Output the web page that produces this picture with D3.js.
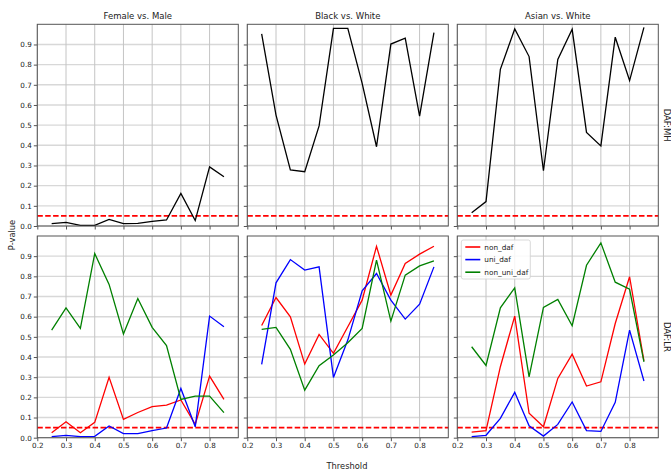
<!DOCTYPE html>
<html>
<head>
<meta charset="utf-8">
<script src="https://cdn.jsdelivr.net/npm/d3@7"></script>
<style>
  body { margin: 0; background: white; }
  text { font-family: "DejaVu Sans", sans-serif; fill: #222; }
</style>
</head>
<body>
<div id="chart"></div>
<script>
// thresholds on the x axis
var thresholds = [0.25, 0.30, 0.35, 0.40, 0.45, 0.50, 0.55, 0.60, 0.65, 0.70, 0.75, 0.80, 0.85];
var xTicks = [0.2, 0.3, 0.4, 0.5, 0.6, 0.7, 0.8];
var yTicks = [0.0, 0.1, 0.2, 0.3, 0.4, 0.5, 0.6, 0.7, 0.8, 0.9];
var groups = ["Female vs. Male", "Black vs. White", "Asian vs. White"];
var methods = ["DAF:MH", "DAF:LR"];
var seriesNames = ["non_daf", "uni_daf", "non_uni_daf"];
var seriesColors = ["#ff0000", "#0000ff", "#008000"];
var alpha = 0.05;

// DAF:MH p-values
var mhFemaleMale = [0.012, 0.018, 0.003, 0.003, 0.033, 0.012, 0.013, 0.023, 0.030, 0.162, 0.027, 0.293, 0.244];
var mhBlackWhite = [0.952, 0.550, 0.278, 0.269, 0.496, 0.980, 0.980, 0.707, 0.393, 0.902, 0.931, 0.545, 0.959];
var mhAsianWhite = [0.066, 0.121, 0.777, 0.977, 0.840, 0.274, 0.826, 0.975, 0.464, 0.397, 0.936, 0.721, 0.985];

// DAF:LR p-values
var lrFemaleMaleNon = [0.025, 0.079, 0.025, 0.076, 0.299, 0.091, 0.125, 0.154, 0.162, 0.187, 0.066, 0.305, 0.190];
var lrFemaleMaleUni = [0.005, 0.012, 0.005, 0.007, 0.058, 0.020, 0.020, 0.035, 0.048, 0.244, 0.054, 0.603, 0.550];
var lrFemaleMaleNonUni = [0.533, 0.644, 0.542, 0.913, 0.760, 0.514, 0.690, 0.547, 0.457, 0.190, 0.206, 0.206, 0.124];

var lrBlackWhiteNon = [0.556, 0.695, 0.599, 0.365, 0.512, 0.418, 0.550, 0.682, 0.949, 0.707, 0.864, 0.910, 0.949];
var lrBlackWhiteUni = [0.363, 0.768, 0.883, 0.831, 0.847, 0.299, 0.484, 0.728, 0.814, 0.682, 0.588, 0.662, 0.847];
var lrBlackWhiteNonUni = [0.537, 0.547, 0.438, 0.236, 0.357, 0.410, 0.471, 0.542, 0.880, 0.578, 0.806, 0.852, 0.877];

var lrAsianWhiteNon = [0.028, 0.035, 0.352, 0.603, 0.121, 0.054, 0.294, 0.414, 0.256, 0.277, 0.566, 0.798, 0.381];
var lrAsianWhiteUni = [0.005, 0.012, 0.096, 0.225, 0.059, 0.008, 0.066, 0.177, 0.035, 0.031, 0.175, 0.533, 0.281];
var lrAsianWhiteNonUni = [0.451, 0.358, 0.644, 0.743, 0.302, 0.646, 0.686, 0.555, 0.855, 0.966, 0.771, 0.736, 0.376];

var mhData = [mhFemaleMale, mhBlackWhite, mhAsianWhite];
var lrData = [
  [lrFemaleMaleNon, lrFemaleMaleUni, lrFemaleMaleNonUni],
  [lrBlackWhiteNon, lrBlackWhiteUni, lrBlackWhiteNonUni],
  [lrAsianWhiteNon, lrAsianWhiteUni, lrAsianWhiteNonUni]
];

var W = 671, H = 470;
var panelX = [37.3, 247.3, 457.3], panelY = [24.3, 236];
var pw = 201, ph = 201.7;

var svg = d3.select("#chart").append("svg")
    .attr("width", W)
    .attr("height", H)
    .style("background-color", "white");

var x = d3.scaleLinear().domain([0.2, 0.9]).range([0, pw]);
var y = d3.scaleLinear().domain([0, 1.0]).range([ph, 0]);

var line = d3.line()
    .x(function(d, i) { return x(thresholds[i]); })
    .y(function(d) { return y(d); });

for (var r = 0; r < 2; r++) {
  for (var c = 0; c < 3; c++) {
    var g = svg.append("g")
        .attr("transform", "translate(" + panelX[c] + "," + panelY[r] + ")");

    // grid
    g.selectAll(".hgrid").data(yTicks).enter().append("line")
        .attr("x1", 0).attr("x2", pw)
        .attr("y1", function(d) { return y(d); })
        .attr("y2", function(d) { return y(d); })
        .attr("stroke", "#d8d8d8").attr("stroke-width", 1.4);
    g.selectAll(".vgrid").data(xTicks).enter().append("line")
        .attr("y1", 0).attr("y2", ph)
        .attr("x1", function(d) { return x(d); })
        .attr("x2", function(d) { return x(d); })
        .attr("stroke", "#c4c4c4").attr("stroke-width", 1);

    // significance line
    g.append("line")
        .attr("x1", 0).attr("x2", pw)
        .attr("y1", y(alpha)).attr("y2", y(alpha))
        .attr("stroke", "#ff0000").attr("stroke-width", 1.7)
        .attr("stroke-dasharray", "5.5,2.4");

    if (r == 0) {
      g.append("path")
          .datum(mhData[c])
          .attr("d", line)
          .attr("fill", "none")
          .attr("stroke", "#000")
          .attr("stroke-width", 1.3);
    } else {
      lrData[c].forEach(function(s, k) {
        g.append("path")
            .datum(s)
            .attr("d", line)
            .attr("fill", "none")
            .attr("stroke", seriesColors[k])
            .attr("stroke-width", 1.3);
      });
    }

    // axes
    var xa = d3.axisBottom(x).tickValues(xTicks).tickSize(3.5).tickPadding(2)
        .tickFormat(r == 1 ? d3.format(".1f") : "");
    var ya = d3.axisLeft(y).tickValues(yTicks).tickSize(3.5).tickPadding(2)
        .tickFormat(c == 0 ? d3.format(".1f") : "");
    var gx = g.append("g").attr("transform", "translate(0," + ph + ")").call(xa);
    var gy = g.append("g").call(ya);
    [gx, gy].forEach(function(a) {
      a.select(".domain").remove();
      a.selectAll("line").attr("stroke", "#555");
      a.selectAll("text").style("font-size", "7.2px").attr("fill", "#333")
          .style("font-family", "DejaVu Sans");
    });

    // frame
    g.append("rect")
        .attr("width", pw).attr("height", ph)
        .attr("fill", "none").attr("stroke", "#555").attr("stroke-width", 1);

    if (r == 0) {
      g.append("text")
          .attr("x", pw / 2).attr("y", -5)
          .attr("text-anchor", "middle")
          .style("font-size", "8.5px")
          .text(groups[c]);
    }
    if (c == 2) {
      g.append("text")
          .attr("transform", "translate(" + (pw + 6) + "," + (ph / 2) + ") rotate(90)")
          .attr("text-anchor", "middle")
          .style("font-size", "8.5px")
          .text(methods[r]);
    }
  }
}

// legend in the bottom-right panel
var leg = svg.append("g").attr("transform", "translate(" + (panelX[2] + 4) + "," + (panelY[1] + 4) + ")");
leg.append("rect")
    .attr("width", 69).attr("height", 39).attr("rx", 2)
    .attr("fill", "white").attr("fill-opacity", 0.85)
    .attr("stroke", "#d0d0d0").attr("stroke-width", 0.8);
seriesNames.forEach(function(n, k) {
  var yy = 7 + k * 12.6;
  leg.append("line")
      .attr("x1", 4).attr("x2", 19).attr("y1", yy).attr("y2", yy)
      .attr("stroke", seriesColors[k]).attr("stroke-width", 1.6);
  leg.append("text")
      .attr("x", 23).attr("y", yy + 2.6)
      .style("font-size", "7.3px")
      .text(n);
});

// shared labels
svg.append("text")
    .attr("transform", "translate(15,235) rotate(-90)")
    .attr("text-anchor", "middle")
    .style("font-size", "8.3px")
    .text("P-value");
svg.append("text")
    .attr("x", 347).attr("y", 469)
    .attr("text-anchor", "middle")
    .style("font-size", "8.3px")
    .text("Threshold");
</script>
</body>
</html>
